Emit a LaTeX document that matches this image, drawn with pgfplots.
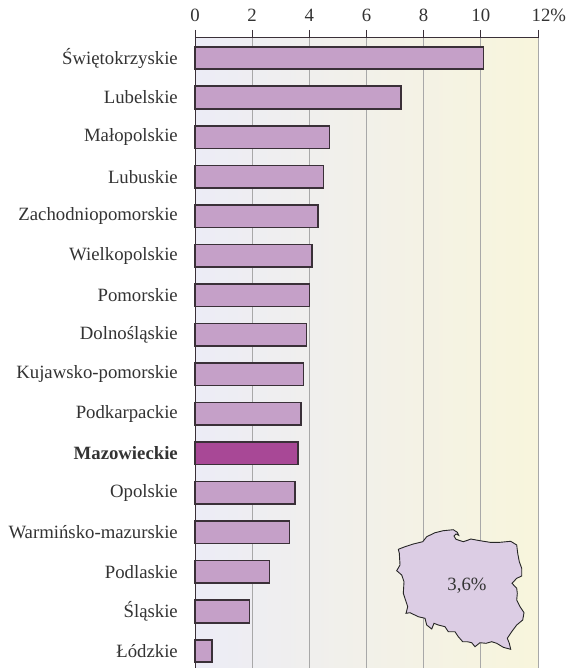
\documentclass[border=0pt]{standalone}
\usepackage{fontspec}
\setmainfont{Liberation Serif}
\usepackage{pgfplots}
\pgfplotsset{compat=1.18}
\definecolor{barfill}{HTML}{C5A0C8}
\definecolor{barhi}{HTML}{A84896}
\definecolor{barline}{HTML}{3A3038}
\definecolor{bgleft}{HTML}{ECECF6}
\definecolor{bgmid}{HTML}{F1F0EC}
\definecolor{bgright}{HTML}{F8F5DC}
\definecolor{mapfill}{HTML}{DCCDE4}
\definecolor{gridc}{HTML}{A8A8A8}
\pgfplotstableread{
y val
0 10.1
1 7.2
2 4.7
3 4.5
4 4.3
5 4.1
6 4.0
7 3.9
8 3.8
9 3.7
11 3.5
12 3.3
13 2.6
14 1.9
15 0.6
}\regions
\pgfplotstableread{
y val
10 3.6
}\mazow
\begin{document}
\begin{tikzpicture}
\path[use as bounding box] (0pt,0pt) rectangle (571pt,668pt);
% main chart: axis box in page points
\begin{axis}[
    at={(195pt,0pt)}, anchor=south west,
    scale only axis,
    width=343pt, height=630pt,
    xmin=0, xmax=12,
    ymin=-0.506, ymax=15.43,
    y dir=reverse,
    axis x line*=top,
    axis y line*=left,
    axis line style={barline, line width=1pt},
    axis background/.style={left color=bgleft, middle color=bgmid, right color=bgright},
    xtick={0,2,...,12},
    xticklabels={0,2,4,6,8,10,\hspace*{6pt}12\rlap{\%}},
    xtick align=outside,
    major tick length=8pt,
    x tick style={barline, line width=0.9pt},
    ytick={0,...,15},
    y tick style={draw=none},
    yticklabels={Świętokrzyskie,Lubelskie,Małopolskie,Lubuskie,Zachodniopomorskie,Wielkopolskie,Pomorskie,Dolnośląskie,Kujawsko-pomorskie,Podkarpackie,\textbf{Mazowieckie},Opolskie,Warmińsko-mazurskie,Podlaskie,Śląskie,Łódzkie},
    tick label style={font=\fontsize{18.75}{21}\selectfont, text=black!80},
    y tick label style={inner sep=0pt, xshift=-9pt},
    x tick label style={inner sep=0pt, yshift=8pt},
    /pgf/number format/assume math mode=true,
    xmajorgrids,
    grid style={gridc, line width=0.8pt},
    xbar, bar width=22.5pt, bar shift=0pt,
    clip=false,
]
\addplot[draw=barline, fill=barfill, line width=1.6pt] table[x=val,y=y] {\regions};
\addplot[draw=barline, fill=barhi, line width=1.6pt] table[x=val,y=y] {\mazow};
\end{axis}
% overlay axis in reference pixels for the map
\begin{axis}[
    at={(0pt,0pt)}, anchor=south west,
    scale only axis, width=571pt, height=668pt,
    xmin=0, xmax=571, ymin=0, ymax=668, y dir=reverse,
    hide axis, clip=false,
]
\addplot[fill=mapfill, draw=black!85, line width=0.9pt] coordinates {
(398.3,549.3)(405,546.7)(413.3,544)(422.7,541.7)(426.7,536.7)(435,532.7)(443.3,530.7)(453.3,529.7)
(457.3,532.3)(458.7,535.3)(456,534)(454,536)(456,539.3)(463.3,541.7)(468.3,540)(470.7,539)
(480,540.7)(490,542.3)(500,542.3)(510.7,541.3)(516.7,545)(517.7,553.3)(519.3,561.7)(521.7,568.3)
(521.7,576)(516.7,578.3)(512,583.3)(516.7,588.3)(517.3,593.3)(516.7,600)(520,606.7)(524,612.7)
(522.7,620)(516.7,625)(511.7,631.7)(507.3,638.3)(509.3,643.3)(510.7,649.3)(503.3,647.3)(496.7,643.3)
(491.7,641.7)(486,643.3)(480,642.7)(475,646.7)(471.7,642.7)(467.3,641.7)(462.7,641.7)(458.3,636.7)
(455,631.7)(448.3,631.7)(445,626.7)(438.3,625)(434,623.3)(431.7,629)(426.7,625)(425,618.3)
(418.3,616.7)(410,612.7)(406,613.3)(407.7,606.7)(403.3,593.3)(404,581.7)(401.7,575)(396.7,570.7)
(400,565)(399.3,553.3)(398.3,549.3)
};
\node[font=\fontsize{18.75}{21}\selectfont, text=black!80] at (axis cs:467,586) {3,6\%};
\end{axis}
\end{tikzpicture}
\end{document}
